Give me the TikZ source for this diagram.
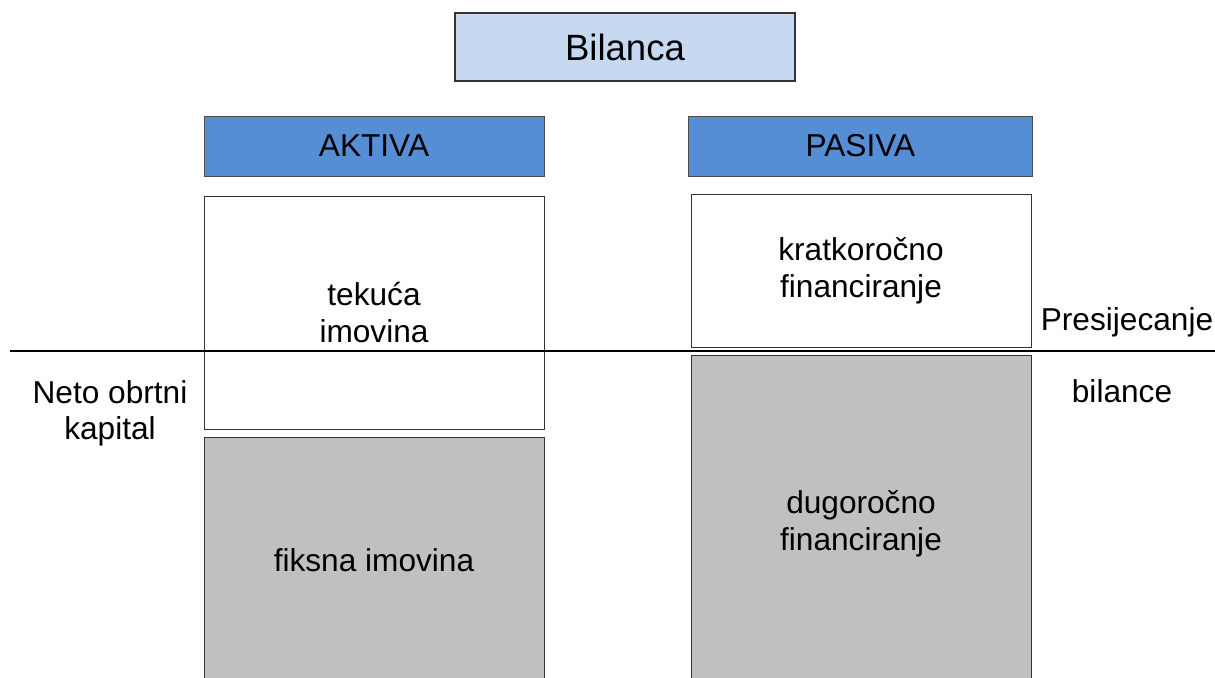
\documentclass[tikz,border=0pt]{standalone}
\usepackage{fontspec}
\setmainfont{Liberation Sans}
\usepackage{tikz}
\usetikzlibrary{positioning}
\definecolor{titleblue}{HTML}{C6D9F1}
\definecolor{headblue}{HTML}{558ED5}
\definecolor{partgray}{HTML}{C0C0C0}
\tikzset{
    title/.style={
    rectangle,draw=black!80,fill=titleblue,line width=0.9pt,font=\fontsize{26}{31}\selectfont
    },
    header/.style={
    rectangle,draw=black!70,fill=headblue,font=\fontsize{22.5}{26}\selectfont
    },
    part/.style={
    rectangle,draw=black!80,fill=white,align=center,font=\fontsize{22.5}{26}\selectfont
    },
    fixed/.style={
    rectangle,draw=black!80,fill=partgray,align=center,font=\fontsize{22.5}{26}\selectfont
    },
    note/.style={
    align=center,font=\fontsize{22.5}{26}\selectfont
    },
}
\begin{document}
\begin{tikzpicture}
   \clip (0,0) rectangle (30.375,16.95);
   \node[title,minimum width=8.5cm,minimum height=1.7cm] (bil) at (15.625,15.775) {Bilanca};
   \node[header,minimum width=8.5cm,minimum height=1.5cm] (akt) at (9.35,13.3) {AKTIVA};
   \node[header,minimum width=8.6cm,minimum height=1.5cm] (pas) at (21.51,13.3) {PASIVA};

   \node[part,minimum width=8.5cm,minimum height=5.825cm] (tek) at (9.35,9.1375) {teku\'ca\\imovina};
   \node[fixed,minimum width=8.5cm,minimum height=6.15cm] (fik) at (9.35,2.95) {fiksna imovina};
   \node[part,minimum width=8.5cm,minimum height=3.825cm] (kra) at (21.525,10.1875) {kratkoro\v{c}no\\financiranje};
   \node[fixed,minimum width=8.5cm,minimum height=8.45cm] (dug) at (21.525,3.85) {dugoro\v{c}no\\financiranje};

   \node[note] (neto) at (2.75,6.6125) {Neto obrtni\\kapital};
   \node[note] (pres) at (28.175,8.9) {Presijecanje};
   \node[note] (bilc) at (28.05,7.175) {bilance};

   \coordinate (l) at (0.25,8.175);
   \coordinate (r) at (30.5,8.175);
   \draw[line width=0.9pt] (l) -- (r);
\end{tikzpicture}
\end{document}
